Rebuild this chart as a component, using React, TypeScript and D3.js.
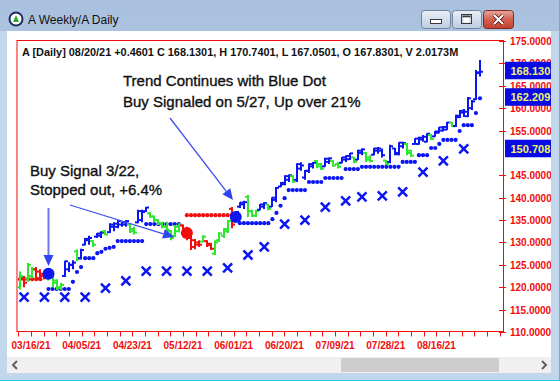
import React from 'react';
import * as d3 from 'd3';

// ---------- DATA ----------
const opens = [120,122,122,122.5,124,123.5,123,122,122.5,121.5,119.8,122.5,124,125,128,126.5,129.5,130.5,130.3,131.3,131.5,132.5,132.3,133.5,133.5,134,134,134,133,134.5,135,137,136.5,135.8,135,134.3,133.5,132.5,131.5,132.5,133.8,133,131.5,130.5,130,130.2,130.3,129.7,127.5,130.5,131.5,132.5,137.5,135,138,138.5,140.2,137,136,137.3,138,138.5,138,139.5,142.5,143,144,144.8,144,146.5,144.5,146,147,148.2,147.5,147,148,148.2,147.5,147.8,148.5,148.6,149,148.5,150,150,149,149.6,150.5,150.5,148.3,148,151,149.7,151.5,152,150.5,152,152,153,152.5,154,153.7,154.5,155,155.2,156.8,156,158,159,158.2,160,162,167.83];
const highs = [123.5,122.5,125.4,124.5,124.5,124,123.5,124,123,121.8,121,125.9,125.6,126,128.4,128.6,131,131.5,130.5,132.1,132.5,132.8,134.3,134.5,135,134.6,135,134.3,133.5,137.3,137.3,137.9,136.8,136,135.2,134.6,134.6,132.8,133.9,134.3,134,133.5,131.6,130.8,130.5,131.6,130.5,129.9,130.5,132.3,133.2,135,137.9,137,139,139.3,140.6,137.3,137.3,138.6,139,138.6,140.1,142.4,143.5,145,145.2,145,147.7,147.9,146.2,147.7,148,148.4,147.8,148.9,149,148.4,148,149.1,149.5,150,149.1,150.7,151,150.2,149.5,151.1,151.3,151,148.4,151.8,151.1,152.4,152.5,152.2,150.7,153.3,153.6,154,154.4,154.2,154.9,155.8,156,156.9,156.9,158.5,159.6,159.8,162.5,161.8,168.5,170.74];
const lows = [119.5,120,121.2,122,121.5,121.5,121.8,121.5,120,119.4,119.3,122.3,123.4,124,125.8,126.2,129.4,129.5,129,131,131,131.6,132.1,132.5,133.2,133.5,133.5,132.1,131.8,134.3,134.5,136.8,135.5,134.5,133.9,133.2,132.2,130.5,131.2,132.3,131.8,130.5,128.3,128.5,129,130,129,128.3,127.2,130.1,131,132.1,133.2,134.6,137.7,137.5,135.7,135.7,135.7,137.2,137.5,137.2,137.9,139,142.4,142.8,143.5,143.3,143.5,146,144,145.5,146.5,146.6,146.2,146.9,147.5,146.9,146.5,147.7,148,148.4,147.7,148.4,149.5,148,147.9,149.5,149.8,149,147.3,147.7,149.5,149.5,151,149.5,149.1,151.8,151.8,152.5,152.4,152.9,153.6,154.4,154.8,155.1,155.8,155.8,157.8,158,158,159.6,161.8,167.05];
const closes = [122.5,121,125,124,122,122.5,122.5,123.5,121,120,120.5,125.8,125,125.5,126.3,128.3,130.8,131,129.5,132,132.2,131.8,134,134.2,134.8,134.5,134.8,132.5,132.2,137,136.8,137.8,135.8,135,134.2,133.5,132.8,131,133.5,134,132.3,131,129,129.5,129.5,131.3,129.4,128.6,130,132,133,134.8,134,136.8,138.9,139,137,136,137,138.5,138.8,137.5,140,142.2,143.3,144.8,145,143.6,147.5,147.2,146,147.5,147.8,147,146.5,148.7,148.8,147.2,146.9,149,149.3,149.9,148,150.5,150.8,148.5,148.2,151,151,149.5,147.5,151.5,150,152.3,152.2,150,149.4,153.2,153.4,153.6,154.3,153.1,154.8,155.7,155.8,156.8,156,158.3,159.4,159.2,162.2,161.5,168,168.13];
// b = blue, g = green, r = red
const barColors = 'grggrrrggggbbbgbbbgbbgbbbbbggbbbggggggggrrrrrgrrggggrbbbgggbbgbbbbbgbbbbbggbbggbbbgbbggbbbgbbbbggbbbbgbbbbgbbbbbbb'.split('');
const dailyStop = [null,null,null,null,null,null,null,119.6,119.6,119.6,119.6,119.6,119.6,121.2,123.4,124.5,126.5,126.5,126.5,127.6,127.9,128.6,128.8,129,130.3,130.3,130.3,130.3,130.3,130.3,130.3,134.1,134.1,134.1,134.1,134.1,134.1,134.1,134.1,134.1,null,null,null,null,null,null,null,null,null,null,null,null,null,null,134.3,134.3,134.3,134.3,134.3,134.3,134.3,134.3,135.2,136.6,138.2,139.9,141.7,141.7,141.7,141.7,141.7,143.5,143.5,143.5,143.5,144.4,144.4,144.4,144.4,144.4,146.4,146.4,146.4,146.4,146.9,146.9,146.9,146.9,146.9,146.9,146.9,146.9,146.9,146.9,148,148,148,148,149.5,149.5,149.5,151.1,151.1,152,152.9,152.9,152.9,152.9,154.9,156.2,156.2,156.2,158.9,162.2];
const sellStop = [121.8,121.8,121.8,121.8,121.8,121.8,null,null,null,null,null,null,null,null,null,null,null,null,null,null,null,null,null,null,null,null,null,null,null,null,null,null,null,null,null,null,null,null,null,null,null,136.1,136.1,136.1,136.1,136.1,136.1,136.1,136.1,136.1,136.1,136.1,136.1];
const weeklyIdx = [1,6,11,16,21,26,31,36,41,46,51,56,60,65,70,75,80,84,89,94,99,104,109];
const weeklyStop = [117.8,117.8,117.8,117.8,119.8,121.4,123.6,123.6,123.6,123.6,124.3,127.2,129,134.1,135,137.9,139.3,140.2,140.4,141.3,145.7,148.2,150.9];
const signalIdx = [7, 41, 53];
const signalVal = [123.0, 132.1, 135.7];
const signalType = ['buy', 'sell', 'buy'];
const yTicks = [110,115,120,125,130,135,140,145,155,160,165,170,175];
const xTickLabels = ['03/16/21','04/05/21','04/23/21','05/12/21','06/01/21','06/20/21','07/09/21','07/28/21','08/16/21'];
const priceBoxValues = [168.13, 162.209, 150.708];
const priceBoxLabels = ['168.130', '162.209', '150.708'];
const headerText = 'A [Daily] 08/20/21  +0.4601 C 168.1301, H 170.7401, L 167.0501, O 167.8301, V 2.0173M';

const W = 560, H = 381;
const BLUE = '#0b16f2';
const GREEN = '#2ee62e';
const RED = '#f20d0d';
const colorOf = (c: string) => (c === 'b' ? BLUE : c === 'g' ? GREEN : RED);

function Arrow({ x1, y1, x2, y2, color = '#4050ee', width = 1.3 }: any) {
  const ang = Math.atan2(y2 - y1, x2 - x1);
  const L = 11, hw = 5;
  const bx = x2 - L * Math.cos(ang), by = y2 - L * Math.sin(ang);
  const px = -Math.sin(ang) * hw, py = Math.cos(ang) * hw;
  return (
    <g>
      <line x1={x1} y1={y1} x2={bx} y2={by} stroke={color} strokeWidth={width} />
      <polygon points={`${x2},${y2} ${bx + px},${by + py} ${bx - px},${by - py}`} fill="#2f44f0" />
    </g>
  );
}

export default function App() {
  const n = closes.length;
  const x = d3.scaleLinear().domain([0, n - 1]).range([20, 480]);
  const y = d3.scaleLinear().domain([110, 175]).range([332, 41]);
  const plotL = 17, plotR = 503.5, plotT = 40.5, plotB = 331.5;

  const majorStart = 2.7, majorStep = 12.45;
  const minorTicks: number[] = [];
  for (let k = -1; ; k++) {
    const px = x(majorStart + (majorStep / 4) * k);
    if (px > plotR) break;
    if (px >= plotL) minorTicks.push(px);
  }
  const font = "'Liberation Sans', Arial, sans-serif";
  const annot = { fontFamily: font, fontSize: 15, fill: '#111', stroke: '#111', strokeWidth: 0.35 } as any;

  return (
    <svg width={W} height={H} style={{ position: 'absolute', left: 0, top: 0, display: 'block' }} xmlns="http://www.w3.org/2000/svg">
      <defs>
        <linearGradient id="titleG" x1="0" y1="0" x2="0" y2="1">
          <stop offset="0" stopColor="#a9c1de" />
          <stop offset="1" stopColor="#c4d7ed" />
        </linearGradient>
        <linearGradient id="btnG" x1="0" y1="0" x2="0" y2="1">
          <stop offset="0" stopColor="#e9eff7" />
          <stop offset="0.5" stopColor="#d3deec" />
          <stop offset="1" stopColor="#bccbe0" />
        </linearGradient>
        <linearGradient id="closeG" x1="0" y1="0" x2="0" y2="1">
          <stop offset="0" stopColor="#e9a99d" />
          <stop offset="0.5" stopColor="#d2604f" />
          <stop offset="1" stopColor="#c2402d" />
        </linearGradient>
        <clipPath id="client">
          <rect x={7} y={31} width={544} height={326} />
        </clipPath>
      </defs>
      {/* window frame */}
      <rect x={0} y={0} width={W} height={H} fill="url(#titleG)" />
      <rect x={0} y={31} width={W} height={H - 31} fill="#c2d6ec" />
      <line x1={559.5} y1={0} x2={559.5} y2={H} stroke="#2ec8e8" />
      <line x1={0} y1={380.5} x2={W} y2={380.5} stroke="#2ec8e8" />
      {/* title */}
      <circle cx={16} cy={19} r={7.5} fill="#1c2c5c" />
      <circle cx={16} cy={19} r={5.5} fill="#ffffff" />
      <polygon points="16,15 19,22 13,22" fill="#2eaa2e" />
      <text x={28} y={24} fontFamily={font} fontSize={12} fill="#111">A Weekly/A Daily</text>
      <rect x={421.5} y={10.5} width={29} height={18} rx={3} fill="url(#btnG)" stroke="#70829c" />
      <rect x={430.5} y={19.5} width={11} height={4} fill="#fff" stroke="#3a3a3a" />
      <rect x={452.5} y={10.5} width={29} height={18} rx={3} fill="url(#btnG)" stroke="#70829c" />
      <rect x={461.5} y={14.5} width={10} height={9} fill="none" stroke="#3a3a3a" strokeWidth={1} />
      <rect x={462.5} y={15.5} width={8} height={2} fill="#3a3a3a" />
      <rect x={463.5} y={17.5} width={6} height={5} fill="#fff" />
      <rect x={483.5} y={10.5} width={30} height={18} rx={3} fill="url(#closeG)" stroke="#7a2a22" />
      <path d="M494,15 L503,24 M503,15 L494,24" stroke="#4a1a14" strokeWidth={3.6} />
      <path d="M494,15 L503,24 M503,15 L494,24" stroke="#ffffff" strokeWidth={2} />

      {/* client area */}
      <rect x={7} y={31} width={544} height={326} fill="#ffffff" />
      <g clipPath="url(#client)">
        {/* plot border */}
        <rect x={plotL} y={plotT} width={plotR - plotL} height={plotB - plotT} fill="none" stroke={RED} strokeWidth={1} />
        {/* header */}
        <text x={22} y={56} fontFamily={font} fontSize={10.9} fontWeight="bold" fill="#111">{headerText}</text>
        {/* right axis */}
        {yTicks.map((v) => (
          <g key={v}>
            <line x1={499} x2={506} y1={Math.round(y(v)) + 0.5} y2={Math.round(y(v)) + 0.5} stroke={RED} />
            <text x={510} y={y(v) + 4} fontFamily={font} fontSize={10} fontWeight="bold" fill={RED}>{v.toFixed(4)}</text>
          </g>
        ))}
        {/* bottom axis */}
        {minorTicks.map((px, i) => (
          <line key={i} x1={Math.round(px) + 0.5} x2={Math.round(px) + 0.5} y1={plotB} y2={plotB + 5} stroke={RED} />
        ))}
        {xTickLabels.map((lab, k) => (
          <text key={lab} x={x(majorStart + majorStep * k)} y={349} textAnchor="middle" fontFamily={font} fontSize={10} fontWeight="bold" fill={RED}>{lab}</text>
        ))}

        {/* weekly stop X markers */}
        {weeklyIdx.map((idx, k) => {
          const cx = x(idx), cy = y(weeklyStop[k]);
          return <path key={k} d={`M${cx - 4.5},${cy - 4.5}L${cx + 4.5},${cy + 4.5}M${cx + 4.5},${cy - 4.5}L${cx - 4.5},${cy + 4.5}`} stroke={BLUE} strokeWidth={2.5} />;
        })}
        {/* daily stop dots */}
        {dailyStop.map((v, i) => (v == null ? null : <circle key={i} cx={x(i)} cy={y(v)} r={2.1} fill={BLUE} />))}
        {sellStop.map((v, i) => (v == null ? null : <circle key={i} cx={x(i)} cy={y(v)} r={2.1} fill={RED} />))}

        {/* OHLC bars */}
        {closes.map((c, i) => {
          const cx = Math.round(x(i));
          const col = colorOf(barColors[i]);
          return (
            <g key={i} stroke={col} strokeWidth={2}>
              <line x1={cx} x2={cx} y1={y(highs[i])} y2={y(lows[i])} />
              <line x1={cx - 3} x2={cx} y1={y(opens[i])} y2={y(opens[i])} />
              <line x1={cx} x2={cx + 3} y1={y(c)} y2={y(c)} />
            </g>
          );
        })}

        {/* signals */}
        {signalIdx.map((idx, k) => (
          <circle key={k} cx={x(idx)} cy={y(signalVal[k])} r={6} fill={signalType[k] === 'buy' ? BLUE : RED} />
        ))}

        {/* annotations */}
        <text x={123} y={86} {...annot}>Trend Continues with Blue Dot</text>
        <text x={123} y={107} {...annot}>Buy Signaled on 5/27, Up over 21%</text>
        <text x={30} y={176} {...annot}>Buy Signal 3/22,</text>
        <text x={30} y={195} {...annot}>Stopped out, +6.4%</text>
        <Arrow x1={x(7)} y1={208} x2={x(7)} y2={266} color="#6a78ee" width={2} />
        <Arrow x1={70} y1={205} x2={174} y2={237} />
        <Arrow x1={170} y1={118} x2={233} y2={200} />

        {/* price boxes */}
        {priceBoxValues.map((v, k) => (
          <g key={k}>
            <rect x={505} y={y(v) - 10} width={50} height={17.5} fill="#0a0ae6" />
            <text x={510.5} y={y(v) + 2.8} fontFamily={font} fontSize={11} fontWeight="bold" fill="#eef56a">{priceBoxLabels[k]}</text>
          </g>
        ))}
      </g>

      {/* horizontal scrollbar */}
      <rect x={7} y={357} width={544} height={16} fill="#f0f0f0" />
      <rect x={341} y={358} width={158} height={14} fill="#cdcdcd" />
      <path d="M17,361 L13,365 L17,369" fill="none" stroke="#606060" strokeWidth={2} />
      <path d="M542,361 L546,365 L542,369" fill="none" stroke="#606060" strokeWidth={2} />
    </svg>
  );
}
